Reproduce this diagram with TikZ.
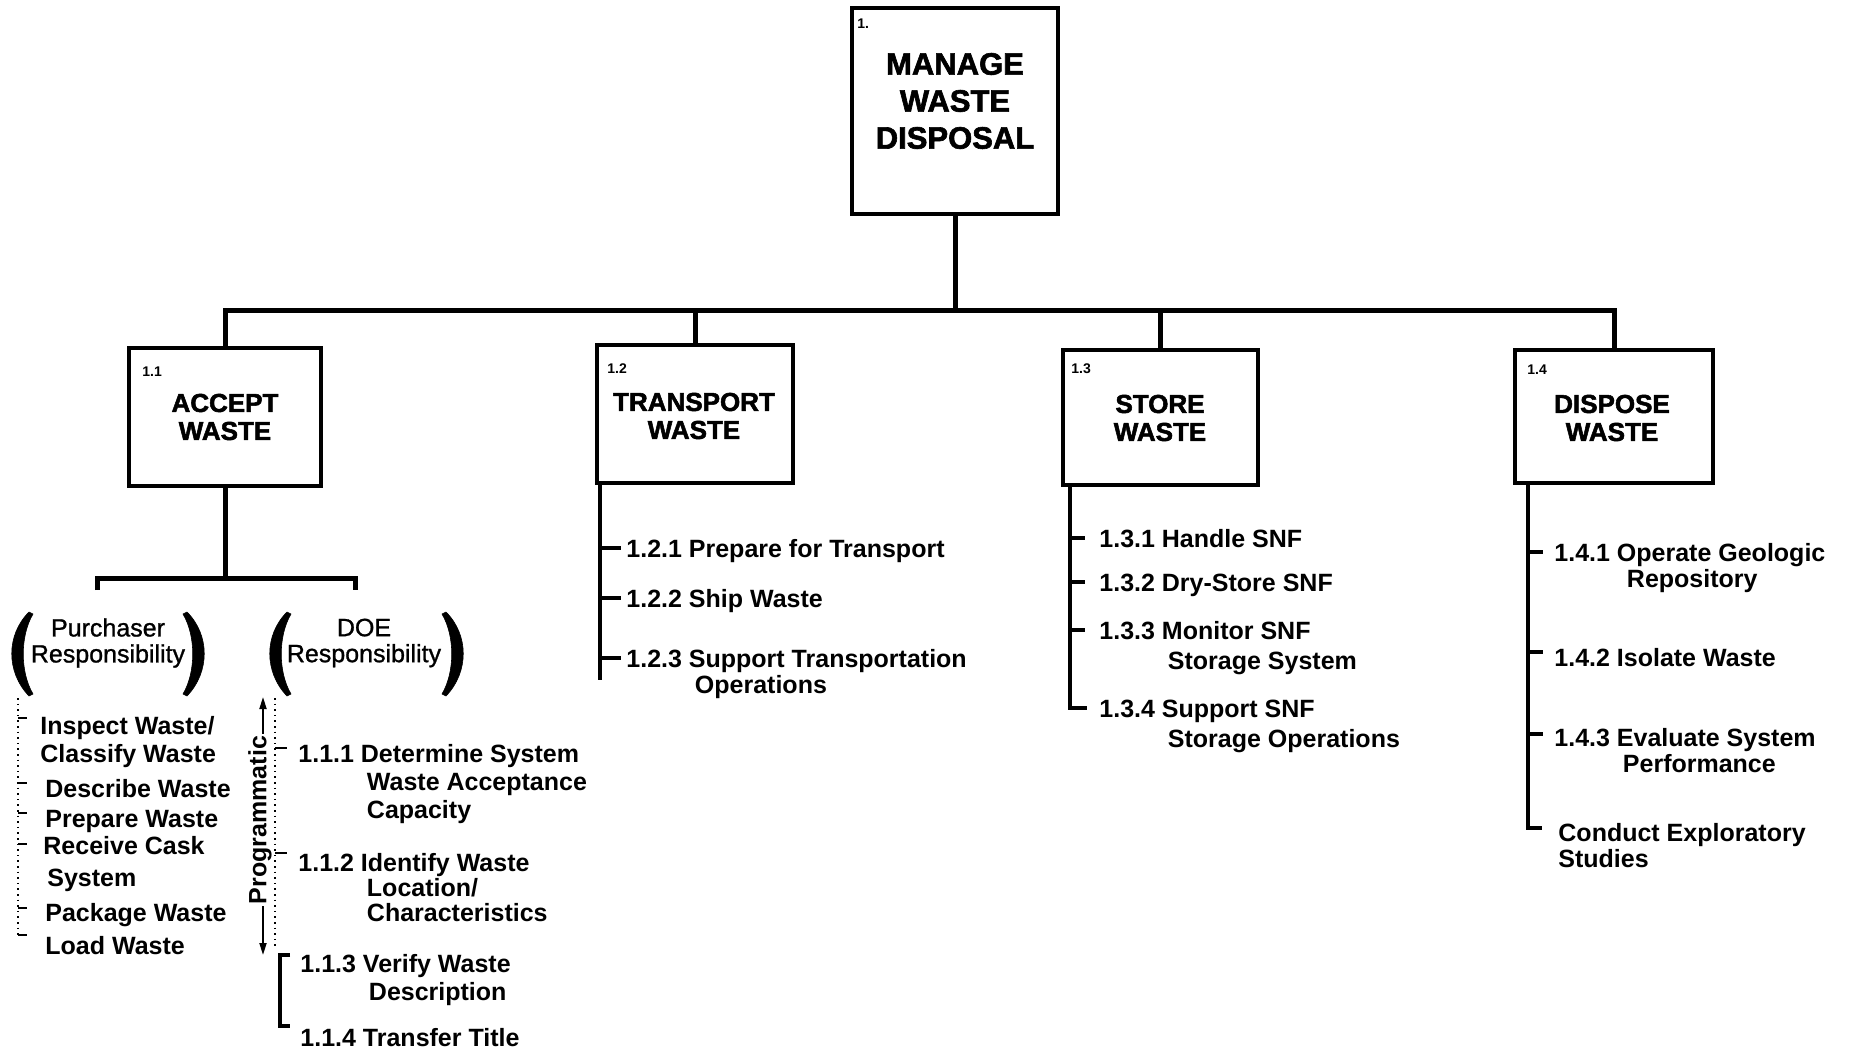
\documentclass[tikz,border=0pt]{standalone}
\usepackage{fontspec}
\setmainfont{Liberation Sans}
\newfontfamily\heavyfont[FakeBold=2]{Liberation Sans Bold}
\newfontfamily\medfont[FakeBold=1]{Liberation Sans}
\usetikzlibrary{arrows.meta}
\newcommand\cont{\hspace{3pt}}
\begin{document}
\begin{tikzpicture}[x=0.5pt,y=-0.5pt,
  box/.style={draw, line width=2pt, fill=white, inner sep=0pt},
  ttl/.style={font=\heavyfont\fontsize{13}{14}\selectfont, align=center, inner sep=0pt},
  bigttl/.style={font=\heavyfont\fontsize{15.5}{18.5}\selectfont, align=center, inner sep=0pt},
  num/.style={font=\bfseries\fontsize{7}{8}\selectfont, anchor=west, inner sep=0pt},
  itm/.style={font=\bfseries\fontsize{12.5}{14}\selectfont, anchor=base west, inner sep=0pt},
  resp/.style={font=\medfont\fontsize{12.5}{13}\selectfont, inner sep=0pt, align=center},
  conn/.style={line width=2.5pt},
  spine/.style={line width=2pt},
  tk/.style={line width=1.8pt},
  ptk/.style={line width=0.9pt},
  thinln/.style={line width=0.9pt},
  dots/.style={line width=0.8pt, dotted},
  paren/.style={fill=black, draw=black, line width=0.3pt, line join=round},
]
\path[use as bounding box] (0,0) rectangle (1856,1049);

% ---------- top box ----------
\node[box, minimum width=103pt, minimum height=103pt] (top) at (955,111) {};
\node[bigttl] (toptxt) at (955,101) {MANAGE\\WASTE\\DISPOSAL};
\node[num] (n1) at (857,24) {1.};

% ---------- level 2 boxes ----------
\node[box, minimum width=96pt, minimum height=69pt] (b11) at (225,417) {};
\node[ttl] (t11) at (225,417) {ACCEPT\\WASTE};
\node[num] (n11) at (142,372) {1.1};

\node[box, minimum width=98pt, minimum height=69pt] (b12) at (695,414) {};
\node[ttl] (t12) at (694,416) {TRANSPORT\\WASTE};
\node[num] (n12) at (607,369) {1.2};

\node[box, minimum width=97.5pt, minimum height=67.5pt] (b13) at (1160.5,417.5) {};
\node[ttl] (t13) at (1160,418) {STORE\\WASTE};
\node[num] (n13) at (1071,369) {1.3};

\node[box, minimum width=99pt, minimum height=66.5pt] (b14) at (1614,416.5) {};
\node[ttl] (t14) at (1612,418) {DISPOSE\\WASTE};
\node[num] (n14) at (1527,370) {1.4};

% ---------- main connectors ----------
\coordinate (bar) at (225,310);
\draw[conn] (b11.north) -- (b11.north |- bar) -- (b14.north |- bar) -- (b14.north);
\draw[conn] (top.south) -- (top.south |- bar);
\draw[conn] (b12.north) -- (b12.north |- bar);
\draw[conn] (b13.north) -- (b13.north |- bar);

% ---------- 1.1 split ----------
\coordinate (sbar) at (225,578);
\coordinate (subL) at (97,590);
\coordinate (subR) at (355,590);
\draw[conn] (b11.south) -- (sbar);
\draw[conn] (subL) |- (sbar) -| (subR);

\node[resp] (pur) at (108,643) {Purchaser\\Responsibility};
\node[resp] (doe) at (364,643) {DOE\\Responsibility};

% parentheses
\fill[paren] (29,612) .. controls (6,635) and (6,672) .. (29,696) -- (33,694) .. controls (20,672) and (20,636) .. (33,614) -- cycle;
\fill[paren] (187,612) .. controls (210,635) and (210,672) .. (187,696) -- (183,694) .. controls (196,672) and (196,636) .. (183,614) -- cycle;
\fill[paren] (287,612) .. controls (264,635) and (264,672) .. (287,696) -- (291,694) .. controls (278,672) and (278,636) .. (291,614) -- cycle;
\fill[paren] (446,612) .. controls (469,635) and (469,672) .. (446,696) -- (442,694) .. controls (455,672) and (455,636) .. (442,614) -- cycle;

% ---------- purchaser list ----------
\coordinate (ptop) at (18,698);
\coordinate (pbot) at (18,935);
\draw[dots] (ptop) -- (pbot);
\node[itm] (p1) at (40,734) {\begin{tabular}[t]{@{}l@{}}Inspect Waste/\\Classify Waste\end{tabular}};
\node[itm] (p2) at (45,797) {Describe Waste};
\node[itm] (p3) at (45,827) {Prepare Waste};
\node[itm] (p4) at (43,854) {\begin{tabular}[t]{@{}l@{}}Receive Cask\\[2pt]\hspace{2pt}System\end{tabular}};
\node[itm] (p5) at (45,921) {Package Waste};
\node[itm] (p6) at (45,954) {Load Waste};
\draw[ptk] (p1.base west -| ptop) ++(0,-16) -- ++(9,0);
\draw[ptk] (p2.base west -| ptop) ++(0,-14) -- ++(9,0);
\draw[ptk] (p3.base west -| ptop) ++(0,-14) -- ++(9,0);
\draw[ptk] (p4.base west -| ptop) ++(0,-10) -- ++(9,0);
\draw[ptk] (p5.base west -| ptop) ++(0,-13) -- ++(9,0);
\draw[ptk] (p6.base west -| ptop) ++(0,-19) -- ++(9,0);

% ---------- DOE list ----------
\coordinate (dtop) at (275,698);
\coordinate (dbot) at (275,948);
\draw[dots] (dtop) -- (dbot);
\node[itm] (i111) at (298,762) {\begin{tabular}[t]{@{}l@{\ }l@{}}1.1.1 & Determine System\\ & \cont Waste Acceptance\\ & \cont Capacity\end{tabular}};
\node[itm] (i112) at (298,871) {\begin{tabular}[t]{@{}l@{\ }l@{}}1.1.2 & Identify Waste\\[-1.5pt] & \cont Location/\\[-1.5pt] & \cont Characteristics\end{tabular}};
\node[itm] (i113) at (300,972) {\begin{tabular}[t]{@{}l@{\ }l@{}}1.1.3 & Verify Waste\\ & \cont Description\end{tabular}};
\node[itm] (i114) at (300,1046) {1.1.4 Transfer Title};
\draw[ptk] (i111.base west -| dtop) ++(0,-14) -- ++(12,0);
\draw[ptk] (i112.base west -| dtop) ++(0,-18) -- ++(12,0);
\draw[spine] ([xshift=-5pt,yshift=8.5pt]i113.base west) -- ++(-5pt,0) |- ([xshift=-5pt,yshift=10pt]i114.base west);

% Programmatic
\node[font=\bfseries\fontsize{12.5}{14}\selectfont, rotate=90, inner sep=1pt] (prog) at (260,820) {Programmatic};
\coordinate (progT) at (263,697);
\coordinate (progB) at (263,955);
\draw[thinln, -{Triangle[length=6pt,width=3.5pt]}] (prog.east -| progT) -- (progT);
\draw[thinln, -{Triangle[length=6pt,width=3.5pt]}] (prog.west -| progB) -- (progB);

% ---------- 1.2 list ----------
\coordinate (s12) at ([xshift=2.5pt]b12.south west);
\coordinate (e12) at (602,680);
\draw[spine] (s12) -- (s12 |- e12);
\node[itm] (i121) at (626,557) {1.2.1 Prepare for Transport};
\node[itm] (i122) at (626,607) {1.2.2 Ship Waste};
\node[itm] (i123) at (626,667) {\begin{tabular}[t]{@{}l@{\ }l@{}}1.2.3 & Support Transportation\\[-1pt] & \cont Operations\end{tabular}};
\draw[tk] (i121.base west -| s12) ++(0,-9) -- ++(21,0);
\draw[tk] (i122.base west -| s12) ++(0,-9) -- ++(21,0);
\draw[tk] (i123.base west -| s12) ++(0,-9) -- ++(21,0);

% ---------- 1.3 list ----------
\coordinate (s13) at ([xshift=4.5pt]b13.south west);
\node[itm] (i131) at (1099,547) {1.3.1 Handle SNF};
\node[itm] (i132) at (1099,591) {1.3.2 Dry-Store SNF};
\node[itm] (i133) at (1099,639) {\begin{tabular}[t]{@{}l@{\ }l@{}}1.3.3 & Monitor SNF\\[1pt] & \cont Storage System\end{tabular}};
\node[itm] (i134) at (1099,717) {\begin{tabular}[t]{@{}l@{\ }l@{}}1.3.4 & Support SNF\\[1pt] & \cont Storage Operations\end{tabular}};
\draw[spine] (s13) |- ([xshift=-6pt,yshift=4.5pt]i134.base west);
\draw[tk] (i131.base west -| s13) ++(0,-9) -- ++(15,0);
\draw[tk] (i132.base west -| s13) ++(0,-9) -- ++(15,0);
\draw[tk] (i133.base west -| s13) ++(0,-9) -- ++(15,0);

% ---------- 1.4 list ----------
\coordinate (s14) at ([xshift=7.5pt]b14.south west);
\node[itm] (i141) at (1554,561) {\begin{tabular}[t]{@{}l@{\ }l@{}}1.4.1 & Operate Geologic\\[-1pt] & \hspace{5pt}Repository\end{tabular}};
\node[itm] (i142) at (1554,666) {1.4.2 Isolate Waste};
\node[itm] (i143) at (1554,746) {\begin{tabular}[t]{@{}l@{\ }l@{}}1.4.3 & Evaluate System\\[-1pt] & \cont Performance\end{tabular}};
\node[itm] (i144) at (1558,841) {\begin{tabular}[t]{@{}l@{}}Conduct Exploratory\\[-1pt]Studies\end{tabular}};
\draw[spine] (s14) |- ([xshift=-8pt,yshift=6.5pt]i144.base west);
\draw[tk] (i141.base west -| s14) ++(0,-9) -- ++(15,0);
\draw[tk] (i142.base west -| s14) ++(0,-14) -- ++(15,0);
\draw[tk] (i143.base west -| s14) ++(0,-12) -- ++(15,0);

\end{tikzpicture}
\end{document}
